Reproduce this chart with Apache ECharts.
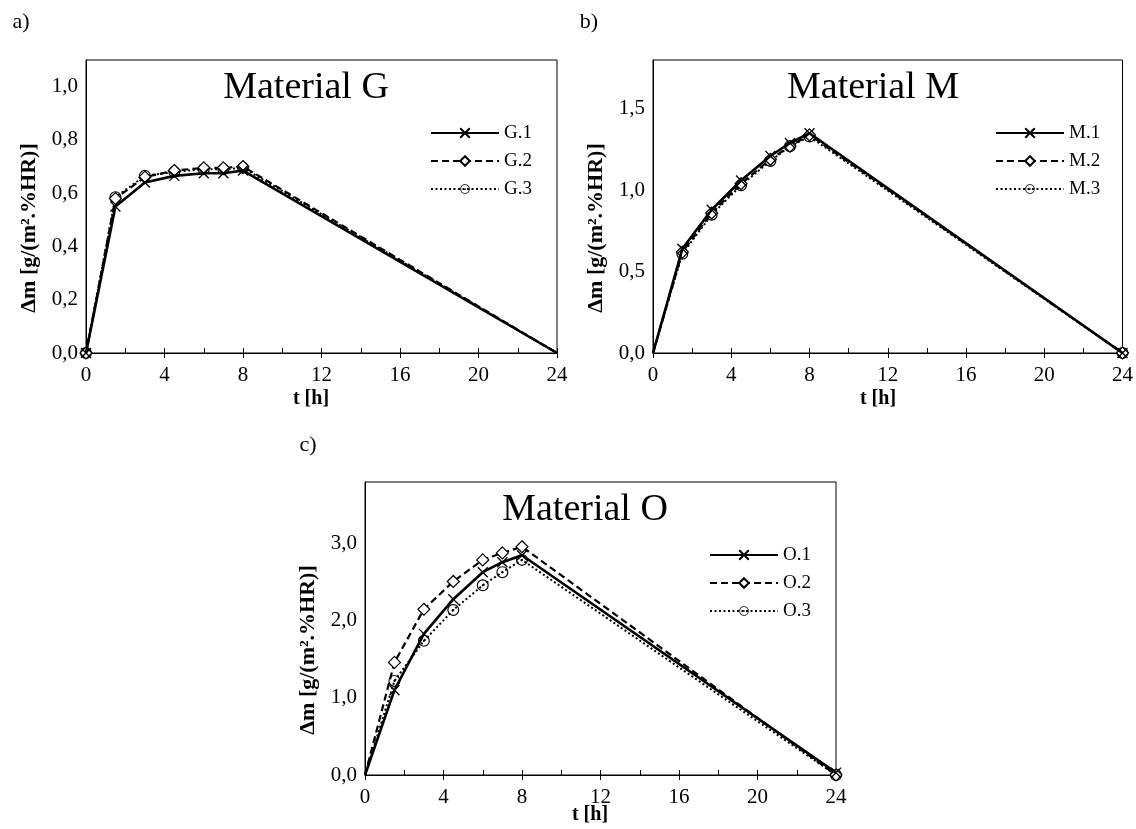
<!DOCTYPE html>
<html>
<head>
<meta charset="utf-8">
<title>Material G / M / O</title>
<script src="https://cdn.jsdelivr.net/npm/echarts@6/dist/echarts.min.js"></script>
<style>
  html, body { margin: 0; padding: 0; background: #fff; }
  #chart { width: 1136px; height: 829px; }
</style>
</head>
<body>
<div id="chart"></div>
<script>
// measurement times [h]
var tHours = [0, 1.5, 3, 4.5, 6, 7, 8, 24]

// Material G
var g1 = [0, 0.55, 0.64, 0.665, 0.675, 0.675, 0.685, 0]
var g2 = [0, 0.58, 0.66, 0.685, 0.695, 0.695, 0.70, 0]
var g3 = [0, 0.585, 0.665, 0.68, 0.69, 0.69, 0.695, 0]
// Material M
var m1 = [0, 0.64, 0.88, 1.06, 1.21, 1.29, 1.35, 0]
var m2 = [0, 0.62, 0.86, 1.04, 1.19, 1.27, 1.34, 0]
var m3 = [0, 0.61, 0.85, 1.03, 1.18, 1.27, 1.33, 0]
// Material O
var o1 = [0, 1.10, 1.83, 2.28, 2.63, 2.76, 2.85, 0.03]
var o2 = [0, 1.46, 2.15, 2.51, 2.79, 2.88, 2.96, 0]
var o3 = [0, 1.22, 1.74, 2.14, 2.46, 2.63, 2.79, 0]

var serif = 'Liberation Serif'
var crossPath = 'path://M0,0L10,10M10,0L0,10'
var dotCirclePath = 'path://M10,0A10,10,0,1,1,10,20A10,10,0,1,1,10,0Z' +
  'M10,1.9A8.1,8.1,0,1,0,10,18.1A8.1,8.1,0,1,0,10,1.9Z' +
  'M10,8.2A1.8,1.8,0,1,1,10,11.8A1.8,1.8,0,1,1,10,8.2Z'

// line / marker look of the three repeats
var looks = [
  { line: 'solid', width: 2.6, symbol: crossPath, size: 10,
    item: { color: '#000', borderColor: '#000', borderWidth: 1.3 } },
  { line: [7, 4], width: 2.2, symbol: 'diamond', size: 12,
    item: { color: '#fff', borderColor: '#000', borderWidth: 1.2 } },
  { line: [2, 2.5], width: 2, symbol: dotCirclePath, size: 12,
    item: { color: '#000', borderWidth: 0 } }
]

var panels = [
  { tag: 'a)', tagX: 21, tagY: 22, title: 'Material G', names: ['G.1', 'G.2', 'G.3'], values: [g1, g2, g3],
    yMax: 1.1, yStep: 0.2, left: 86, top: 60, markFirst: true, markLast: false, legendLeft: 425, legendY: 128, xNameDy: 46 },
  { tag: 'b)', tagX: 589, tagY: 22, title: 'Material M', names: ['M.1', 'M.2', 'M.3'], values: [m1, m2, m3],
    yMax: 1.8, yStep: 0.5, left: 653, top: 60, markFirst: false, markLast: true, legendLeft: 990, legendY: 128, xNameDy: 46 },
  { tag: 'c)', tagX: 308, tagY: 445, title: 'Material O', names: ['O.1', 'O.2', 'O.3'], values: [o1, o2, o3],
    yMax: 3.8, yStep: 1.0, left: 365, top: 482, markFirst: false, markLast: true, legendLeft: 704, legendY: 550, xNameDy: 40 }
]
var plotW = 471, plotH = 293

var grids = [], xAxes = [], yAxes = [], series = [], legends = [], graphics = []

panels.forEach(function (p, k) {
  grids.push({ left: p.left, top: p.top, width: plotW, height: plotH,
    show: true, borderColor: '#000', borderWidth: 1, backgroundColor: 'transparent' })

  var xBase = {
    type: 'value', gridIndex: k, min: 0, max: 24, interval: 4, position: 'bottom',
    splitLine: { show: false }
  }
  xAxes.push(Object.assign({}, xBase, {
    axisLine: { lineStyle: { color: '#000', width: 1 } },
    axisTick: { show: true, inside: true, length: 5, lineStyle: { color: '#000' } },
    minorTick: { show: true, splitNumber: 2, length: 5, lineStyle: { color: '#000' } },
    axisLabel: { color: '#000', fontFamily: serif, fontSize: 21, margin: 12 }
  }))
  // second axis only for the outward half of the major ticks
  xAxes.push(Object.assign({}, xBase, {
    axisLine: { show: false },
    axisTick: { show: true, inside: false, length: 5, lineStyle: { color: '#000' } },
    axisLabel: { show: false }
  }))

  yAxes.push({
    type: 'value', gridIndex: k, min: 0, max: p.yMax, interval: p.yStep,
    axisLine: { show: true, lineStyle: { color: '#000', width: 1 } },
    axisTick: { show: false },
    splitLine: { show: false },
    axisLabel: {
      color: '#000', fontFamily: serif, fontSize: 21, margin: 8, showMaxLabel: false,
      formatter: function (v) { return v.toFixed(1).replace('.', ',') }
    }
  })

  p.names.forEach(function (name, j) {
    var lk = looks[j]
    var data = tHours.map(function (t, i) {
      var item = { value: [t, p.values[j][i]] }
      if ((i === 0 && !p.markFirst) || (i === tHours.length - 1 && !p.markLast)) item.symbol = 'none'
      return item
    })
    series.push({
      type: 'line', name: name, xAxisIndex: 2 * k, yAxisIndex: k,
      data: data, smooth: false, clip: false,
      symbol: lk.symbol, symbolSize: lk.size, showAllSymbol: true,
      lineStyle: { color: '#000', width: lk.width, type: lk.line },
      itemStyle: lk.item,
      emphasis: { disabled: true },
      z: 3 - j
    })
  })

  legends.push({
    data: p.names, orient: 'vertical', left: p.legendLeft, top: p.legendY - 10,
    itemWidth: 68, itemHeight: 12, itemGap: 8, selectedMode: false,
    textStyle: { color: '#000', fontFamily: serif, fontSize: 19, lineHeight: 20 }
  })

  graphics.push(
    { type: 'text', x: p.tagX, y: p.tagY,
      style: { text: p.tag, fontFamily: serif, fontSize: 22, fill: '#000', align: 'center', verticalAlign: 'middle' } },
    { type: 'text', x: p.left + 220, y: p.top + 28,
      style: { text: p.title, fontFamily: serif, fontSize: 38, fill: '#000', align: 'center', verticalAlign: 'middle' } },
    { type: 'text', x: p.left - 57, y: p.top + 168, rotation: Math.PI / 2,
      style: { text: 'Δm [g/(m².%HR)]', fontFamily: serif, fontWeight: 'bold', fontSize: 22, fill: '#000',
        align: 'center', verticalAlign: 'middle' } },
    { type: 'text', x: p.left + 225, y: p.top + plotH + p.xNameDy,
      style: { text: 't [h]', fontFamily: serif, fontWeight: 'bold', fontSize: 20, fill: '#000',
        align: 'center', verticalAlign: 'middle' } }
  )
})

var chart = echarts.init(document.getElementById('chart'))
chart.setOption({
  backgroundColor: '#fff',
  animation: false,
  grid: grids,
  xAxis: xAxes,
  yAxis: yAxes,
  legend: legends,
  series: series,
  graphic: graphics
})
</script>
</body>
</html>
